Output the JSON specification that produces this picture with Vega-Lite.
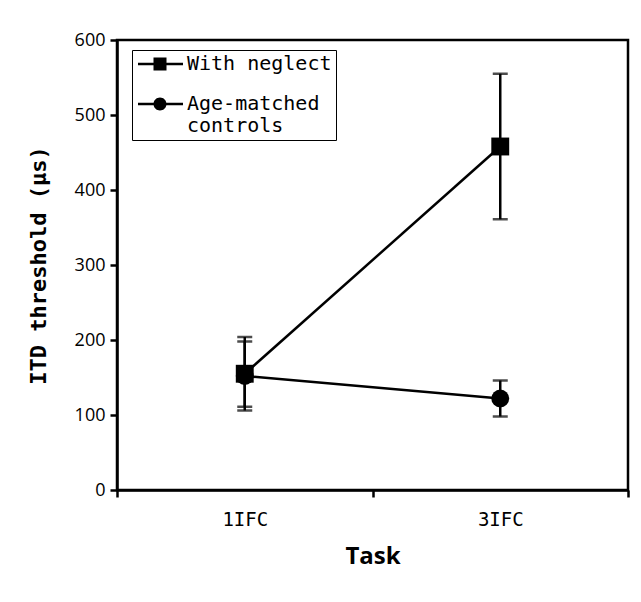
{
  "$schema": "https://vega.github.io/schema/vega-lite/v6.json",
  "autosize": {"type": "none"},
  "padding": {"left": 117, "top": 40, "right": 13, "bottom": 112},
  "width": 511,
  "height": 450,
  "background": "white",
  "data": {"values": [
    {"group": "With neglect", "task": "1IFC", "mean": 155, "lo": 111, "hi": 198},
    {"group": "With neglect", "task": "3IFC", "mean": 458, "lo": 361, "hi": 555},
    {"group": "Age-matched controls", "task": "1IFC", "mean": 152, "lo": 106, "hi": 204},
    {"group": "Age-matched controls", "task": "3IFC", "mean": 122, "lo": 98, "hi": 146}
  ]},
  "encoding": {
    "x": {"field": "task", "type": "nominal", "sort": ["1IFC", "3IFC"],
      "scale": {"type": "band", "paddingInner": 0, "paddingOuter": 0},
      "axis": {"title": "Task", "labelAngle": 0, "tickBand": "extent", "domainColor": "black", "domainWidth": 2.5, "tickColor": "black", "tickWidth": 2.5, "tickSize": 7, "labelFont": "DejaVu Sans Mono", "labelFontSize": 19, "labelColor": "black", "labelPadding": 13, "titleFont": "Open Sans", "titleFontSize": 24, "titleFontWeight": "bold", "titleColor": "black", "titlePadding": 15}}
  },
  "layer": [
    {"mark": {"type": "rule", "color": "black", "strokeWidth": 2.5},
     "encoding": {"y": {"field": "lo", "type": "quantitative"}, "y2": {"field": "hi"}}},
    {"mark": {"type": "tick", "color": "black", "thickness": 2.5, "size": 15},
     "encoding": {"y": {"field": "lo", "type": "quantitative"}}},
    {"mark": {"type": "tick", "color": "black", "thickness": 2.5, "size": 15},
     "encoding": {"y": {"field": "hi", "type": "quantitative"}}},
    {"mark": {"type": "line", "color": "black", "strokeWidth": 2.5},
     "encoding": {"y": {"field": "mean", "type": "quantitative"}, "detail": {"field": "group"}}},
    {"mark": {"type": "point", "filled": true, "color": "black", "opacity": 1, "size": 320},
     "encoding": {
       "y": {"field": "mean", "type": "quantitative",
         "scale": {"domain": [0, 600], "nice": false},
         "axis": {"values": [0, 100, 200, 300, 400, 500, 600], "grid": false, "title": "ITD threshold (µs)", "domainColor": "black", "domainWidth": 2.5, "tickColor": "black", "tickWidth": 2.5, "tickSize": 7, "labelFont": "Open Sans", "labelFontSize": 18, "labelColor": "black", "labelPadding": 5, "titleFont": "DejaVu Sans Mono", "titleFontSize": 22, "titleFontWeight": "bold", "titleColor": "black", "titlePadding": 24}},
       "shape": {"field": "group", "type": "nominal",
         "scale": {"domain": ["With neglect", "Age-matched controls"], "range": ["square", "circle"]},
         "legend": null}
     }},
    {"mark": {"type": "point", "filled": true, "color": "black", "opacity": 0, "size": 10},
     "encoding": {
       "y": {"field": "mean", "type": "quantitative"},
       "shape": {"field": "group", "type": "nominal",
         "scale": {"domain": ["With neglect", "Age-matched controls"], "range": ["M-0.8,-0.12H3.7V0.12H-0.8ZM0.75,-0.65H2.05V0.65H0.75Z", "M-0.8,-0.12H3.7V0.12H-0.8ZM0.75,0A0.65,0.65,0,1,1,2.05,0A0.65,0.65,0,1,1,0.75,0Z"]},
         "legend": {
           "title": null, "orient": "none", "legendX": 15, "legendY": 10,
           "strokeColor": "black", "padding": 4, "symbolSize": 400, "symbolOpacity": 1,
           "symbolFillColor": "black", "symbolStrokeColor": "black", "symbolStrokeWidth": 0,
           "labelFont": "DejaVu Sans Mono", "labelFontSize": 20, "labelColor": "black", "labelOffset": 31,
           "rowPadding": 20, "labelLimit": 300,
           "labelExpr": "datum.label == 'Age-matched controls' ? ['Age-matched', 'controls'] : datum.label",
           "encode": {
             "symbols": {"update": {"opacity": {"value": 1}, "fill": {"value": "black"}}},
             "labels": {"update": {"baseline": {"value": "top"}, "dy": {"value": -11}, "lineHeight": {"value": 22}}}
           }
         }}
     }}
  ],
  "resolve": {"scale": {"shape": "independent"}},
  "config": {"view": {"stroke": "black", "strokeWidth": 2.5}}
}
